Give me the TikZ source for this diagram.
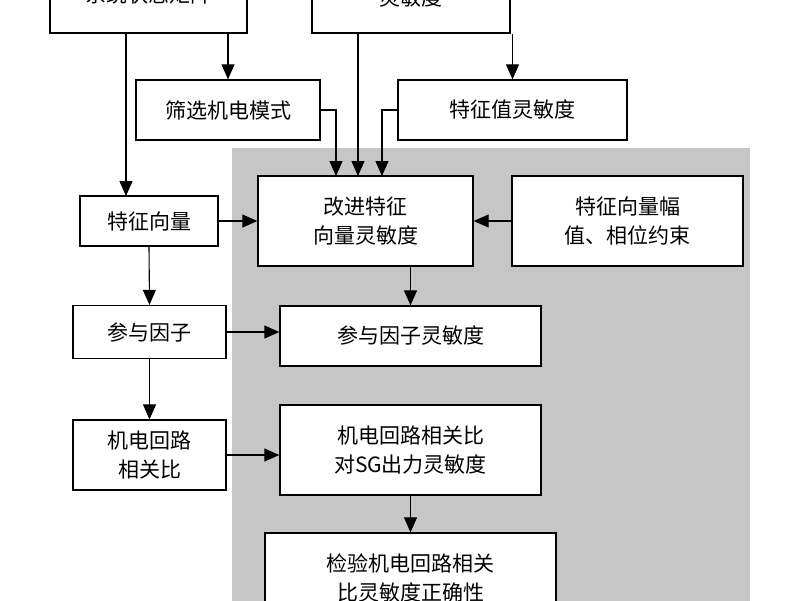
\documentclass[tikz,border=0pt]{standalone}
\usepackage{fontspec}
\setmainfont{Noto Sans CJK SC}
\usetikzlibrary{arrows.meta}
\begin{document}
\begin{tikzpicture}[x=1pt,y=-1pt,
  box/.style={draw,line width=1.3pt,fill=white,inner sep=0pt,align=center,font=\fontsize{21}{29}\selectfont},
  ar/.style={line width=1.1pt,-{Triangle[length=15pt,width=13pt]}},
  ln/.style={line width=1.1pt}]
\useasboundingbox (0,0) rectangle (800,600);
\clip (0,0) rectangle (800,600);
\fill[gray!45] (232,148) rectangle (750,640);
\node[box,minimum width=197pt,minimum height=90pt] (tl) at (148.5,-12) {\\[2pt]系统状态矩阵};
\node[box,minimum width=198pt,minimum height=90pt] (tc) at (411,-12) {\\[8pt]灵敏度};
\node[box,minimum width=184pt,minimum height=60pt] (sx) at (228,110) {筛选机电模式};
\node[box,minimum width=229pt,minimum height=60pt] (tz) at (512.5,110) {特征值灵敏度};
\node[box,minimum width=215pt,minimum height=90pt] (gj) at (365.5,221) {改进特征\\向量灵敏度};
\node[box,minimum width=231pt,minimum height=90pt] (fz) at (627.5,221) {特征向量幅\\值、相位约束};
\node[box,minimum width=138pt,minimum height=50pt] (tv) at (149,221) {特征向量};
\node[box,minimum width=153pt,minimum height=53pt] (cy) at (149.5,332) {参与因子};
\node[box,minimum width=261pt,minimum height=60pt] (cl) at (410.5,336) {参与因子灵敏度};
\node[box,minimum width=153pt,minimum height=70pt] (jd) at (149.5,455) {机电回路\\相关比};
\node[box,minimum width=261pt,minimum height=90pt] (jl) at (410.5,450) {机电回路相关比\\对SG出力灵敏度};
\node[box,minimum width=291pt,minimum height=90pt] (jy) at (410.5,578) {检验机电回路相关\\比灵敏度正确性};
\draw[ar] (tl.south -| sx) -- (sx.north);
\draw[ar] (126,33) -- (126,196);
\draw[ar] (tc.south -| tz) -- (tz.north);
\draw[ar] (358,33) -- (358,176);
\draw[ar] (sx.east) -| (336,176);
\draw[ar] (tz.west) -| (382,176);
\draw[ar] (tv.east) -- (gj.west);
\draw[ar] (fz.west) -- (gj.east);
\draw[ar] (gj.south -| cl) -- (cl.north);
\draw[ar] (tv.south) -- (cy.north);
\draw[ar] (cy.east) -- (cl.west |- cy.east);
\draw[ar] (cy.south) -- (jd.north);
\draw[ar] (jd.east) -- (jl.west |- jd.east);
\draw[ar] (jl.south) -- (jy.north);
\end{tikzpicture}
\end{document}
